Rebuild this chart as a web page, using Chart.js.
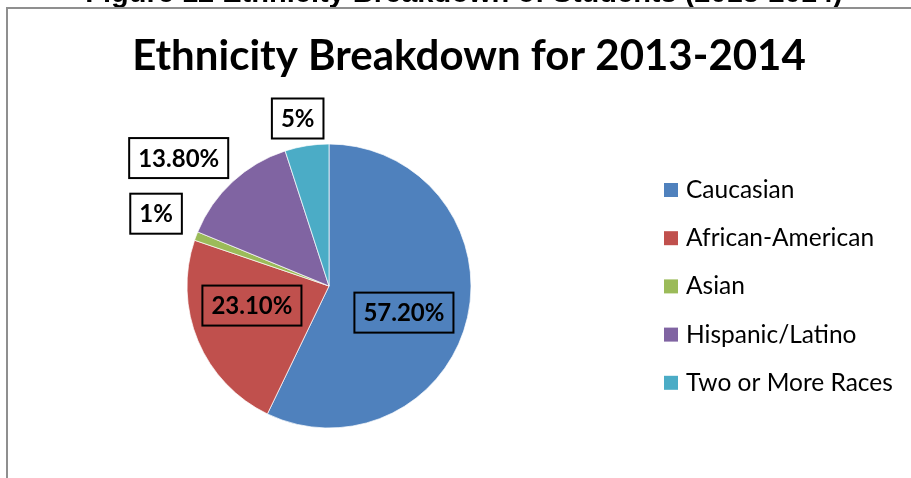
<!DOCTYPE html>
<html>
<head>
<meta charset="utf-8">
<title>Ethnicity Breakdown for 2013-2014</title>
<script src="https://cdn.jsdelivr.net/npm/chart.js@4.4.1/dist/chart.umd.min.js"></script>
<style>
  html, body { margin: 0; padding: 0; background: #fff; }
  #wrap { width: 911px; height: 478px; }
</style>
</head>
<body>
<div id="wrap"><canvas id="chart" width="911" height="478"></canvas></div>
<script>
/* global Chart */

// Student ethnicity shares, 2013-2014 (percent)
const categories = ['Caucasian', 'African-American', 'Asian', 'Hispanic/Latino', 'Two or More Races'];
const shares     = [57.2, 23.1, 1, 13.8, 5];
const colors     = ['#4F81BD', '#C0504D', '#9BBB59', '#8064A2', '#4BACC6'];

const figureCaption = 'Figure 12 Ethnicity Breakdown of Students (2013-2014)';
const chartTitle    = 'Ethnicity Breakdown for 2013-2014';

// Data label placement: distance from centre (x radius) and angular nudge (deg)
const labelPlacement = [
  { dist: 0.56, nudge: 6.7 },
  { dist: 0.56, nudge: 8.5 },
  { dist: 1.32, nudge: 2.1 },
  { dist: 1.39, nudge: -6.8 },
  { dist: 1.20, nudge: -1.6 },
];

const FONT = 'Lato, "Open Sans", sans-serif';

function fmtPct(v) {
  return Number.isInteger(v) ? `${v}%` : `${v.toFixed(2)}%`;
}

// Caption strip, outer frame and title drawn behind the pie
const framePlugin = {
  id: 'frame',
  beforeDraw(chart) {
    const { ctx, width, height } = chart;
    ctx.save();
    ctx.fillStyle = '#fff';
    ctx.fillRect(0, 0, width, height);

    ctx.fillStyle = '#000';
    ctx.font = 'bold 29px "Liberation Sans", Arial, sans-serif';
    ctx.textAlign = 'center';
    ctx.textBaseline = 'alphabetic';
    ctx.fillText(figureCaption, 464, 2);

    ctx.strokeStyle = '#8f8f8f';
    ctx.lineWidth = 2;
    ctx.beginPath();
    ctx.moveTo(7, height + 2);
    ctx.lineTo(7, 8);
    ctx.lineTo(width + 2, 8);
    ctx.stroke();

    ctx.font = `bold 42px ${FONT}`;
    ctx.fillText(chartTitle, 469, 70);
    ctx.restore();
  },
};

// Boxed percentage labels on / beside each slice
const boxLabelPlugin = {
  id: 'boxLabels',
  afterDatasetsDraw(chart) {
    const { ctx } = chart;
    const meta = chart.getDatasetMeta(0);
    const values = chart.data.datasets[0].data;
    ctx.save();
    ctx.font = `bold 24px ${FONT}`;
    ctx.textAlign = 'center';
    ctx.textBaseline = 'middle';
    meta.data.forEach((arc, i) => {
      const { x, y, startAngle, endAngle, outerRadius } =
        arc.getProps(['x', 'y', 'startAngle', 'endAngle', 'outerRadius'], true);
      const p = labelPlacement[i];
      const a = (startAngle + endAngle) / 2 + (p.nudge * Math.PI) / 180;
      const cx = x + Math.cos(a) * outerRadius * p.dist;
      const cy = y + Math.sin(a) * outerRadius * p.dist;
      const text = fmtPct(values[i]);
      const w = ctx.measureText(text).width + 18;
      const h = 40;
      if (p.dist > 1) {
        ctx.fillStyle = '#fff';
        ctx.fillRect(cx - w / 2, cy - h / 2, w, h);
      }
      ctx.strokeStyle = '#000';
      ctx.lineWidth = 2;
      ctx.strokeRect(cx - w / 2, cy - h / 2, w, h);
      ctx.fillStyle = '#000';
      ctx.fillText(text, cx, cy + 1);
    });
    ctx.restore();
  },
};

// Legend column at the right
const sideLegendPlugin = {
  id: 'sideLegend',
  afterDraw(chart) {
    const { ctx } = chart;
    const ds = chart.data.datasets[0];
    ctx.save();
    ctx.font = `24.5px ${FONT}`;
    ctx.textAlign = 'left';
    ctx.textBaseline = 'middle';
    chart.data.labels.forEach((label, i) => {
      const cy = 190 + i * 48.2;
      ctx.fillStyle = ds.backgroundColor[i];
      ctx.fillRect(664, cy - 7, 14, 14);
      ctx.fillStyle = '#000';
      ctx.fillText(label, 686, cy);
    });
    ctx.restore();
  },
};

new Chart(document.getElementById('chart'), {
  type: 'pie',
  data: {
    labels: categories,
    datasets: [{
      data: shares,
      backgroundColor: colors,
      borderColor: 'rgba(255,255,255,0.7)',
      borderWidth: 1,
    }],
  },
  options: {
    responsive: false,
    animation: false,
    devicePixelRatio: 1,
    radius: 142,
    layout: { padding: { left: 187, right: 440, top: 144, bottom: 50 } },
    plugins: {
      legend: { display: false },
      title: { display: false },
      tooltip: { enabled: false },
    },
  },
  plugins: [framePlugin, boxLabelPlugin, sideLegendPlugin],
});
</script>
</body>
</html>
